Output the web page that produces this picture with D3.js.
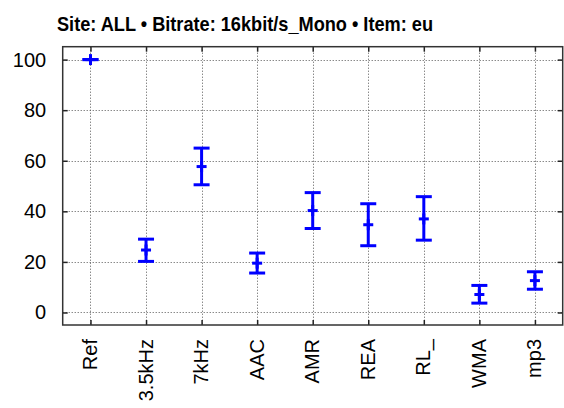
<!DOCTYPE html>
<html><head><meta charset="utf-8">
<script src="https://cdn.jsdelivr.net/npm/d3@7"></script>
<style>body{margin:0;background:#fff}svg{display:block}</style>
</head><body>
<script>
const categories = ["Ref","3.5kHz","7kHz","AAC","AMR","REA","RL_","WMA","mp3"];
const means = [100, 24.7, 57.7, 19.5, 40.3, 34.7, 37.0, 7.1, 12.6];
const lower = [100, 20.2, 50.5, 15.6, 33.2, 26.4, 28.6, 3.7, 9.2];
const upper = [100, 29.0, 65.0, 23.5, 47.4, 43.0, 45.8, 10.7, 16.1];
const yTicks = [0, 20, 40, 60, 80, 100];
const title = "Site: ALL \u2022 Bitrate: 16kbit/s_Mono \u2022 Item: eu";

const W = 564, H = 408;
const m = {left: 62.7, right: 562.7, top: 46.7, bottom: 325};
const svg = d3.select("body").append("svg").attr("width", W).attr("height", H);
const font = "'Liberation Sans', Arial, sans-serif";

const x = d3.scalePoint().domain(categories).range([m.left, m.right]).padding(0.5);
const y = d3.scaleLinear().domain([-4.95, 105.1]).range([m.bottom, m.top]);

// grid
const grid = svg.append("g").attr("stroke", "#555").attr("stroke-width", 1).attr("stroke-dasharray", "1,2");
grid.selectAll(".gy").data(yTicks).join("line")
  .attr("x1", m.left).attr("x2", m.right)
  .attr("y1", d => Math.round(y(d)) + 0.5).attr("y2", d => Math.round(y(d)) + 0.5);
grid.selectAll(".gx").data(categories).join("line")
  .attr("y1", m.top).attr("y2", m.bottom)
  .attr("x1", d => Math.round(x(d)) + 0.5).attr("x2", d => Math.round(x(d)) + 0.5);

// axes
const axL = svg.append("g").attr("transform", `translate(${m.left},0)`)
  .call(d3.axisLeft(y).tickValues(yTicks).tickSize(-5).tickPadding(16.5));
const axR = svg.append("g").attr("transform", `translate(${m.right},0)`)
  .call(d3.axisRight(y).tickValues(yTicks).tickSize(-5).tickFormat(""));
const axB = svg.append("g").attr("transform", `translate(0,${m.bottom})`)
  .call(d3.axisBottom(x).tickSize(-5).tickPadding(14));
const axT = svg.append("g").attr("transform", `translate(0,${m.top})`)
  .call(d3.axisTop(x).tickSize(-5).tickFormat(""));
[axL, axR, axB, axT].forEach(a => {
  a.select(".domain").remove();
  a.selectAll(".tick line").attr("stroke", "#222").attr("stroke-width", 1.5);
  a.selectAll("text").attr("font-family", font).attr("font-size", 20).attr("fill", "#000");
});
axB.selectAll("text")
  .attr("transform", "rotate(-90)")
  .attr("text-anchor", "end")
  .attr("x", -14).attr("y", -1).attr("dy", "0.35em");

// frame
svg.append("rect").attr("x", m.left).attr("y", m.top)
  .attr("width", m.right - m.left).attr("height", m.bottom - m.top)
  .attr("fill", "none").attr("stroke", "#333").attr("stroke-width", 1.5);

// error bars
const data = categories.map((c, i) => ({c, m: means[i], lo: lower[i], hi: upper[i]}));
const eb = svg.append("g").attr("stroke", "#0000ff").attr("stroke-width", 3).attr("fill", "none");
const capW = 8, mW = 5;
data.forEach(d => {
  const cx = x(d.c);
  const g = eb.append("g");
  g.append("line").attr("x1", cx).attr("x2", cx).attr("y1", y(d.lo)).attr("y2", y(d.hi));
  g.append("line").attr("x1", cx - capW).attr("x2", cx + capW).attr("y1", y(d.lo)).attr("y2", y(d.lo));
  g.append("line").attr("x1", cx - capW).attr("x2", cx + capW).attr("y1", y(d.hi)).attr("y2", y(d.hi));
  g.append("line").attr("x1", cx - mW).attr("x2", cx + mW).attr("y1", y(d.m)).attr("y2", y(d.m));
  g.append("line").attr("x1", cx).attr("x2", cx).attr("y1", y(d.m) - 5.5).attr("y2", y(d.m) + 5.5);
});

// title
svg.append("text").attr("x", 57).attr("y", 31)
  .attr("font-family", font).attr("font-weight", "bold").attr("font-size", 21)
  .attr("textLength", 376).attr("lengthAdjust", "spacingAndGlyphs")
  .text(title);
</script>
</body></html>
